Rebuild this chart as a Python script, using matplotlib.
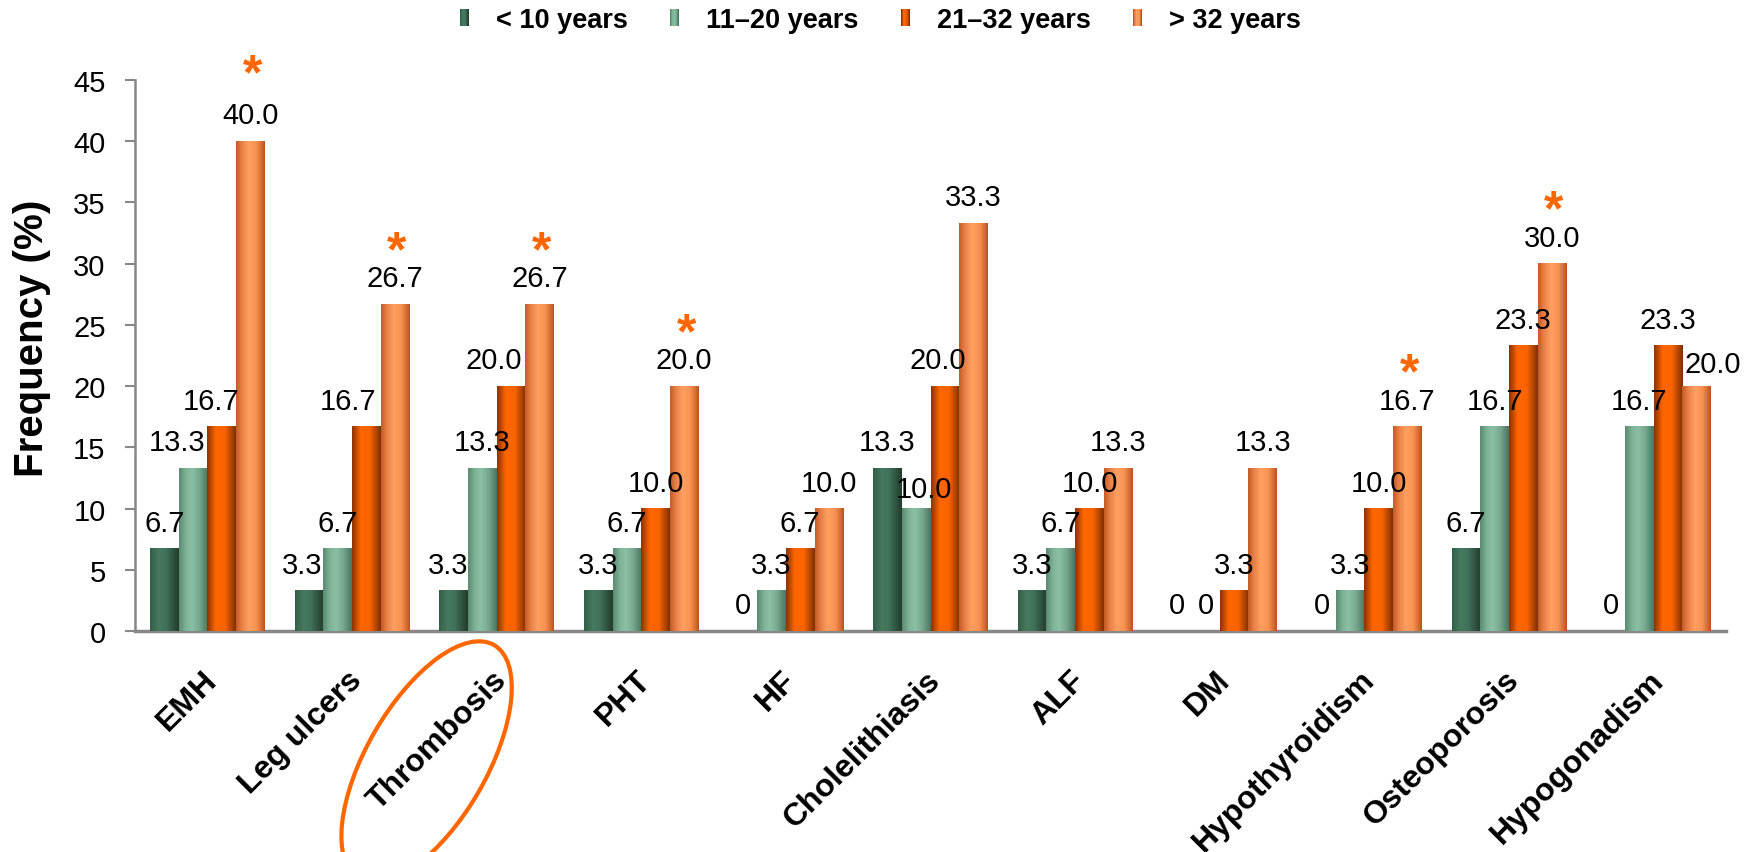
import matplotlib
matplotlib.use("Agg")
import matplotlib.pyplot as plt
import matplotlib.colors as mplcolors
import numpy as np
from matplotlib.patches import Rectangle, Ellipse
from matplotlib.legend_handler import HandlerBase
from matplotlib.transforms import IdentityTransform, ScaledTranslation

plt.rcParams['font.family'] = ['Liberation Sans', 'DejaVu Sans']

# complications by age group, frequency in %
categories = ["EMH", "Leg ulcers", "Thrombosis", "PHT", "HF", "Cholelithiasis",
              "ALF", "DM", "Hypothyroidism", "Osteoporosis", "Hypogonadism"]
age_groups = ["< 10 years", "11\u201320 years", "21\u201332 years", "> 32 years"]
under_10 = [6.7, 3.3, 3.3, 3.3, 0, 13.3, 3.3, 0, 0, 6.7, 0]
age_11_20 = [13.3, 6.7, 13.3, 6.7, 3.3, 10.0, 6.7, 0, 3.3, 16.7, 16.7]
age_21_32 = [16.7, 16.7, 20.0, 10.0, 6.7, 20.0, 10.0, 3.3, 10.0, 23.3, 23.3]
over_32 = [40.0, 26.7, 26.7, 20.0, 10.0, 33.3, 13.3, 13.3, 16.7, 30.0, 20.0]
significant = ["EMH", "Leg ulcers", "Thrombosis", "PHT", "Hypothyroidism", "Osteoporosis"]
highlighted = "Thrombosis"

series = [under_10, age_11_20, age_21_32, over_32]

# cylinder-like shading across each bar: (position, colour) stops
shades = [
    [(0, "#335e48"), (0.3, "#467a60"), (0.55, "#41725b"), (0.85, "#2c4d3c"), (1, "#213c2c")],
    [(0, "#5b8a71"), (0.25, "#7fb498"), (0.45, "#8ac0a4"), (0.7, "#78a88f"), (1, "#4a7560")],
    [(0, "#8a3300"), (0.12, "#b84600"), (0.3, "#ff6600"), (0.62, "#fa6300"), (0.85, "#b04400"), (1, "#7d3000")],
    [(0, "#c45a26"), (0.2, "#e88048"), (0.45, "#ffa060"), (0.7, "#f79252"), (0.9, "#d06a30"), (1, "#bf501c")],
]

# hand-placed label nudges, in bar widths: (category index, series index) -> dx
label_nudge = {(0, 1): -0.56, (0, 2): -0.38, (1, 0): -0.23, (1, 2): -0.65,
               (2, 0): -0.2, (2, 2): -0.6, (5, 1): 0.28, (5, 2): -0.23, (10, 3): 0.55}
label_drop = {(5, 1): 6, (10, 3): 4}
star_lift = {0: 14}


def shade_row(stops, n=100):
    pos = np.array([s[0] for s in stops])
    cols = np.array([mplcolors.to_rgb(s[1]) for s in stops])
    t = np.linspace(0, 1, n)
    return np.stack([np.interp(t, pos, cols[:, k]) for k in range(3)], axis=1)


class ShadedHandle(HandlerBase):
    def __init__(self, stops):
        super().__init__()
        self.row = shade_row(stops, 8)

    def create_artists(self, legend, orig_handle, xdescent, ydescent, width, height, fontsize, trans):
        n = len(self.row)
        return [Rectangle((-xdescent + k * width / n, -ydescent), width / n, height,
                          facecolor=self.row[k], edgecolor='none', transform=trans)
                for k in range(n)]


fig = plt.figure(figsize=(17.56, 8.53), dpi=100)
ax = fig.add_axes([135 / 1756, 221 / 853, (1726 - 135) / 1756, (772 - 221) / 853])

x = np.arange(len(categories))
width = 0.198
for j, vals in enumerate(series):
    bars = ax.bar(x + (j - 1.5) * width, vals, width, color=shade_row(shades[j], 3)[1],
                  edgecolor='none', zorder=2)
    row = shade_row(shades[j])[np.newaxis, :, :]
    for i, b in enumerate(bars):
        h = b.get_height()
        if h > 0:
            ax.imshow(row, extent=(b.get_x(), b.get_x() + b.get_width(), 0, h),
                      aspect='auto', interpolation='bilinear', zorder=3)
        txt = "0" if h == 0 else f"{h:.1f}"
        dx = label_nudge.get((i, j), 0) * width
        ax.annotate(txt, (b.get_x() + b.get_width() / 2 + dx, h), xytext=(0, 18 - label_drop.get((i, j), 0)),
                    textcoords='offset pixels', ha='center', va='baseline', fontsize=21, zorder=5)
        if j == 3 and categories[i] in significant:
            ax.annotate("*", (b.get_x() + b.get_width() / 2, h), xytext=(2, 39 + star_lift.get(i, 0)),
                        textcoords='offset pixels', ha='center', va='baseline',
                        fontsize=36, fontweight='bold', color='#ff6600', zorder=5)

ax.set_xlim(-0.5, len(categories) - 0.5)
ax.set_ylim(0, 45)
ax.set_yticks(np.arange(0, 46, 5))
ax.tick_params(axis='y', labelsize=21, length=7.2, width=1.5, color='#888888', pad=14)
ax.set_xticks(x)
ax.set_xticklabels(categories, rotation=45, ha='right', va='top', rotation_mode='anchor',
                   fontsize=23, fontweight='bold')
ax.tick_params(axis='x', length=0, pad=24)
shift = ScaledTranslation(-5 / 100, 0, fig.dpi_scale_trans)
for lab in ax.get_xticklabels():
    lab.set_transform(lab.get_transform() + shift)
for side in ['top', 'right']:
    ax.spines[side].set_visible(False)
ax.spines['left'].set_color('#888888')
ax.spines['left'].set_linewidth(1.8)
ax.spines['bottom'].set_color('#888888')
ax.spines['bottom'].set_linewidth(2.5)

fig.text(32 / 1756, 1 - 338 / 853, "Frequency (%)", rotation=90, ha='center', va='center',
         fontsize=29, fontweight='bold')

# legend with shaded swatches
handles = [Rectangle((0, 0), 1, 1) for _ in age_groups]
fig.legend(handles, age_groups, loc='center', bbox_to_anchor=(0.5014, 1 - 21 / 853),
           ncol=4, frameon=False, prop={'weight': 'bold', 'size': 19.5},
           handlelength=0.34, handleheight=0.62, handletextpad=1.0, columnspacing=1.55,
           handler_map={h: ShadedHandle(s) for h, s in zip(handles, shades)})

# ring around the highlighted category label
cx, cy = ax.transData.transform((categories.index(highlighted), 0))
ring = Ellipse((cx - 70, cy - 131), width=270, height=120, angle=60, fill=False,
               edgecolor='#ff6600', linewidth=3, transform=IdentityTransform(), clip_on=False)
fig.add_artist(ring)

fig.savefig("out.png", dpi=100)
